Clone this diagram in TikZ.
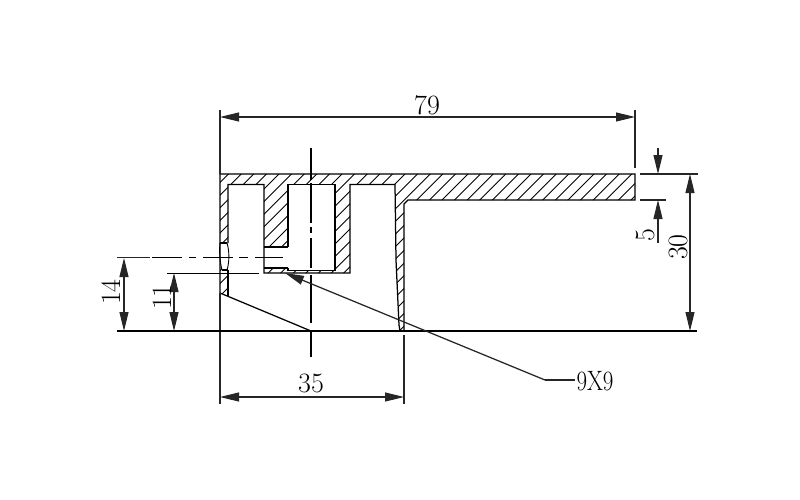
\documentclass[tikz,border=0pt]{standalone}
\usepackage{graphicx}
\usetikzlibrary{arrows.meta}
\tikzset{
  outline/.style={line width=1.25pt,black},
  thin dim/.style={line width=1.1pt,black!85},
  dimline/.style={thin dim,{Triangle[length=19pt,width=9pt]}-{Triangle[length=19pt,width=9pt]}},
  endarrow/.style={thin dim,-{Triangle[length=19pt,width=9pt]}},
  hatchline/.style={line width=0.9pt,black},
  center/.style={line width=1.3pt,black},
  dimtext/.style={inner sep=0pt,font=\fontsize{28}{30}\selectfont},
}
\begin{document}
\begin{tikzpicture}[x=1pt,y=-1pt]
\useasboundingbox (0,0) rectangle (800,500);
\fill[white] (0,0) rectangle (800,500);
% hatching
\begin{scope}
\clip (220,174) -- (635,174) -- (635,200) -- (408,200) -- (404,204) -- (404,331) -- (400,331)
  -- (399,325) -- (396,260) -- (395,184.5) -- (350,184.5) -- (350,273) -- (264,273)
  -- (264,184.5) -- (228,184.5) -- (228,296) -- (220,293) -- cycle;
\foreach \c in {390,402.6,...,850} \draw[hatchline] ({\c-340},340) -- ({\c-130},130);
\fill[white] (288,184.5) rectangle (335,270.7);
\fill[white] (264,247) rectangle (288,268);
\fill[white] (220,243) .. controls (219,252) and (220,262) .. (222,270) -- (227,270)
  .. controls (229.5,262) and (229.5,251) .. (227,243) -- cycle;
\end{scope}
% section outline
\draw[outline] (220,174) -- (635,174) -- (635,200) -- (408,200) -- (404,204) -- (404,331) -- (400,331)
  -- (399,325) -- (396,260) -- (395,184.5) -- (350,184.5) -- (350,273) -- (264,273)
  -- (264,184.5) -- (228,184.5) -- (228,243);
\draw[outline] (228,270) -- (228,296);
\draw[outline] (220,174) -- (220,293) -- (311,331);
\draw[outline,line width=1.5pt] (288,247) -- (288,184.5) -- (335,184.5) -- (335,270.7) -- (288,270.7) -- (288,268);
\draw[outline] (264,247) -- (288,247) (264,268) -- (288,268);
\draw[outline] (220,243) -- (227,243) (222,270) -- (228,270);
\draw[outline,line width=0.9pt] (220,243) .. controls (219,252) and (220,262) .. (222,270);
\draw[outline,line width=0.9pt] (227,243) .. controls (229.5,251) and (229.5,262) .. (227,270);
% centre lines
\draw[center] (311,148) -- (311,180) (311,183) -- (311,223) (311,227) -- (311,233) (311,238) -- (311,268)
  (311,275) -- (311,323) (311,331) -- (311,357);
\draw[center] (152,257.7) -- (182,257.7) (189,257.7) -- (196,257.7) (203,257.7) -- (233,257.7)
  (239,257.7) -- (248,257.7) (255,257.7) -- (283,257.7);
% named points
\coordinate (a79l) at (220,117);
\coordinate (a79r) at (635,117);
\coordinate (a35l) at (220,397);
\coordinate (a35r) at (404,397);
\coordinate (a30t) at (690,174);
\coordinate (a30b) at (690,331);
\coordinate (a14t) at (124,258);
\coordinate (a14b) at (124,331);
\coordinate (a11t) at (174,273);
\coordinate (a11b) at (174,331);
\coordinate (a5t) at (658,174);
\coordinate (a5ts) at (658,148);
\coordinate (a5b) at (658,200);
\coordinate (a5bs) at (658,243);
\coordinate (ltip) at (285,273);
\coordinate (lbend) at (545,380);
\coordinate (lend) at (575,380);
% extension lines
\draw[thin dim] (220,110) -- (220,174) (220,293) -- (220,404);
\draw[thin dim] (635,110) -- (635,168);
\draw[thin dim] (404,335) -- (404,404);
\draw[thin dim] (640,174) -- (698,174) (640,200) -- (666,200);
\draw[outline] (117,331) -- (697,331);
\draw[thin dim] (117,257.7) -- (150,257.7);
\draw[outline] (167,273.3) -- (259,273.3);
% dimensions
\draw[dimline] (a79l) -- (a79r);
\draw[dimline] (a35l) -- (a35r);
\draw[dimline] (a30t) -- (a30b);
\draw[dimline] (a14t) -- (a14b);
\draw[dimline] (a11t) -- (a11b);
\draw[endarrow] (a5ts) -- (a5t);
\draw[endarrow] (a5bs) -- (a5b);
\draw[endarrow,line width=1.25pt] (lbend) -- (ltip);
\draw[thin dim] (lbend) -- (lend);
% labels
\node[dimtext] (t79) at (427,105) {79};
\node[dimtext] (t35) at (311,383) {35};
\node[dimtext,rotate=90] (t30) at (678,247) {30};
\node[dimtext,rotate=90] (t5) at (645,235) {5};
\node[dimtext,rotate=90] (t14) at (111,292) {14};
\node[dimtext,rotate=90] (t11) at (162,297) {11};
\node[dimtext] (t9x9) at (595,381) {\scalebox{.82}[1]{9X9}};
\end{tikzpicture}
\end{document}
